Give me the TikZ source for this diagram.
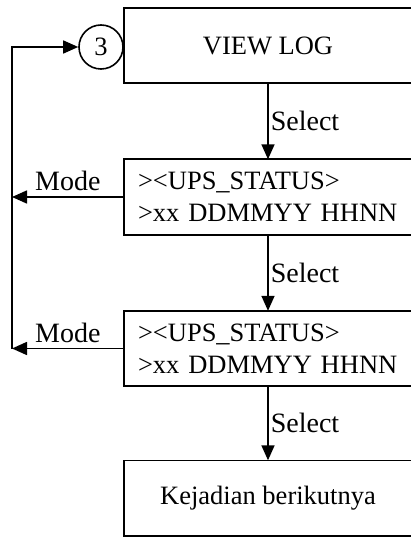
\documentclass[tikz,border=0pt]{standalone}
\usepackage{fontspec}
\setmainfont{Liberation Serif}
\usetikzlibrary{arrows.meta,positioning}

\tikzset{
  screen/.style={minimum width=288pt, minimum height=75pt, font=\fontsize{26.5}{32}\selectfont},
  lcdbox/.style={screen, text width=260pt, align=left, inner xsep=14pt},
  frame/.style={line width=1.6pt},
  flow/.style={line width=1.6pt, -{Triangle[length=15pt,width=13pt]}},
  key/.style={font=\fontsize{28}{32}\selectfont, inner sep=2pt},
}

\begin{document}
\begin{tikzpicture}[x=1pt, y=-1pt]
    \useasboundingbox (0,0) rectangle (410,537);

    % Screens
    \node[screen] (view) at (268,45.5) {VIEW LOG};
    \node[lcdbox] (log1) at (268,197) {><UPS\_STATUS>\\>xx DDMMYY HHNN};
    \node[lcdbox] (log2) at (268,348.5) {><UPS\_STATUS>\\>xx DDMMYY HHNN};
    \node[screen] (next) at (268,498) {Kejadian berikutnya};
    \node[circle, draw, frame, minimum size=44pt, inner sep=0pt,
          font=\fontsize{26.5}{32}\selectfont] (three) at (101,47) {3};

    % Frames run past the right edge
    \foreach \s in {view,log1,log2,next}
        \draw[frame] (\s.north west) rectangle ([xshift=20pt]\s.south east);

    % Select
    \draw[flow] (view) -- node[key, right] {Select} (log1);
    \draw[flow] (log1) -- node[key, right] {Select} (log2);
    \draw[flow] (log2) -- node[key, right] {Select} (next);

    % Mode back to 3
    \coordinate (back1) at (12,197);
    \coordinate (back2) at (12,348.5);
    \draw[flow] (log1) -- node[key, above=3pt] {Mode} (back1);
    \draw[flow] (log2) -- node[key, above=3pt] {Mode} (back2);
    \draw[flow] (back2) |- (three);

\end{tikzpicture}
\end{document}
